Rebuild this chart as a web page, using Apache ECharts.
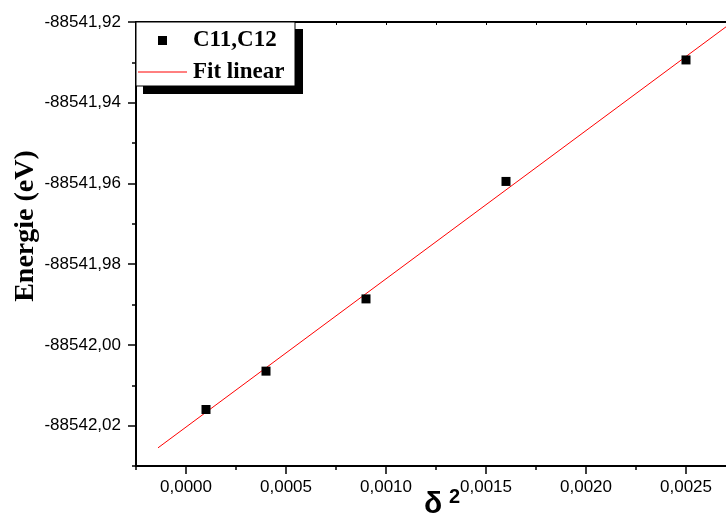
<!DOCTYPE html>
<html>
<head>
<meta charset="utf-8">
<script src="https://cdn.jsdelivr.net/npm/echarts@6/dist/echarts.min.js"></script>
<style>html,body{margin:0;padding:0;background:#fff}#c{width:726px;height:521px}</style>
</head>
<body>
<div id="c"></div>
<script>
const seriesName = 'C11,C12';
const fitName = 'Fit linear';
const xValues = [0.0001, 0.0004, 0.0009, 0.0016, 0.0025];
const yValues = [-88542.016, -88542.0065, -88541.9886, -88541.9595, -88541.9294];
const fitX = [-0.00014, 0.0027];
const fitY = [-88542.0255, -88541.9212];
const xMajorTicks = [0, 0.0005, 0.001, 0.0015, 0.002, 0.0025];
const xMinorTicks = [-0.00025, 0.00025, 0.00075, 0.00125, 0.00175, 0.00225];
const yMajorTicks = [-88542.02, -88542.00, -88541.98, -88541.96, -88541.94, -88541.92];
const yMinorTicks = [-88542.03, -88542.01, -88541.99, -88541.97, -88541.95, -88541.93];
const xMin = -0.00025, xMax = 0.0027;
const yMin = -88542.03, yMax = -88541.92;

const chart = echarts.init(document.getElementById('c'), null, {renderer: 'canvas'});
const fmtX = v => v.toFixed(4).replace('.', ',');
const fmtY = v => v.toFixed(2).replace('.', ',');
const lineStyle = {color: '#000', width: 2};
const allX = xMajorTicks.concat(xMinorTicks).sort((a, b) => a - b);

chart.setOption({
  animation: false,
  backgroundColor: '#fff',
  grid: {left: 136, top: 22, right: 0, bottom: 55, containLabel: false},
  xAxis: [
    {type: 'value', position: 'bottom', min: xMin, max: xMax,
     axisLine: {show: true, onZero: false, lineStyle: lineStyle},
     axisTick: {show: true, customValues: xMajorTicks, length: 8, lineStyle: {color: '#000', width: 1.5}},
     axisLabel: {customValues: xMajorTicks, formatter: fmtX, color: '#000', fontSize: 17, fontFamily: 'Liberation Sans', margin: 13},
     splitLine: {show: false}},
    {type: 'value', position: 'bottom', min: xMin, max: xMax,
     axisLine: {show: false, onZero: false},
     axisTick: {show: true, customValues: xMinorTicks, length: 4, lineStyle: {color: '#000', width: 1.5}},
     axisLabel: {show: false}, splitLine: {show: false}},
    {type: 'value', position: 'top', min: xMin, max: xMax,
     axisLine: {show: true, onZero: false, lineStyle: lineStyle},
     axisTick: {show: true, inside: true, customValues: allX, length: 3, lineStyle: {color: '#000', width: 1}},
     axisLabel: {show: false}, splitLine: {show: false}}
  ],
  yAxis: [
    {type: 'value', position: 'left', min: yMin, max: yMax,
     axisLine: {show: true, onZero: false, lineStyle: lineStyle},
     axisTick: {show: true, customValues: yMajorTicks, length: 8, lineStyle: {color: '#000', width: 1.5}},
     axisLabel: {customValues: yMajorTicks, formatter: fmtY, color: '#000', fontSize: 17, fontFamily: 'Liberation Sans', margin: 15},
     splitLine: {show: false}},
    {type: 'value', position: 'left', min: yMin, max: yMax,
     axisLine: {show: false, onZero: false},
     axisTick: {show: true, customValues: yMinorTicks, length: 4, lineStyle: {color: '#000', width: 1.5}},
     axisLabel: {show: false}, splitLine: {show: false}}
  ],
  series: [
    {name: fitName, type: 'line', xAxisIndex: 0, yAxisIndex: 0,
     data: fitX.map((x, i) => [x, fitY[i]]), showSymbol: false, symbol: 'none',
     lineStyle: {color: '#ff0000', width: 1}, clip: true, z: 2},
    {name: seriesName, type: 'scatter', xAxisIndex: 0, yAxisIndex: 0,
     data: xValues.map((x, i) => [x, yValues[i]]), symbol: 'rect', symbolSize: 9,
     itemStyle: {color: '#000', opacity: 1}, z: 3}
  ],
  graphic: [
    {type: 'rect', shape: {x: 143, y: 29, width: 160, height: 65}, style: {fill: '#000'}, z: 10},
    {type: 'rect', shape: {x: 136, y: 22, width: 159, height: 64}, style: {fill: '#fff', stroke: '#000', lineWidth: 1}, z: 11},
    {type: 'rect', shape: {x: 158, y: 36, width: 9, height: 9}, style: {fill: '#000'}, z: 12},
    {type: 'text', x: 193, y: 40, style: {text: seriesName, font: 'bold 23px "Liberation Serif"', fill: '#000', verticalAlign: 'middle', align: 'left'}, z: 12},
    {type: 'line', shape: {x1: 138, y1: 72, x2: 187, y2: 72}, style: {stroke: '#ff0000', lineWidth: 1}, z: 12},
    {type: 'text', x: 193, y: 72, style: {text: fitName, font: 'bold 23px "Liberation Serif"', fill: '#000', verticalAlign: 'middle', align: 'left'}, z: 12},
    {type: 'text', x: 26, y: 226, rotation: Math.PI / 2, style: {text: 'Energie (eV)', font: 'bold 28px "Liberation Serif"', fill: '#000', verticalAlign: 'middle', align: 'center'}, z: 12},
    {type: 'text', x: 424, y: 505, style: {text: 'δ', font: 'bold 30px "Liberation Sans"', fill: '#000', verticalAlign: 'middle', align: 'left'}, z: 12},
    {type: 'text', x: 449, y: 497, style: {text: '2', font: 'bold 20px "Liberation Sans"', fill: '#000', verticalAlign: 'middle', align: 'left'}, z: 12}
  ]
});
</script>
</body>
</html>
